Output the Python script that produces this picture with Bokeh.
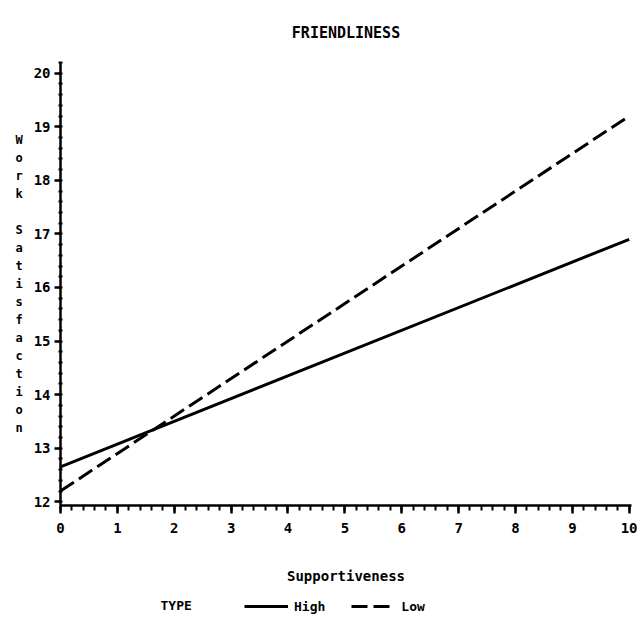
from bokeh.plotting import figure
from bokeh.layouts import column
from bokeh.models import Range1d, SingleIntervalTicker, Legend, LegendItem, Label
from bokeh.embed import file_html
from bokeh.resources import INLINE

# ---- data ----
support = [0, 10]
high = [12.65, 16.9]
low = [12.2, 19.2]
series_names = ["High", "Low"]
title_text = "FRIENDLINESS"
x_label = "Supportiveness"
y_label = "Work Satisfaction"
legend_title = "TYPE"

FONT = "DejaVu Sans Mono"
W = 637
LEG_H = 34
BORDER_L = 60
BORDER_R = 6

p = figure(width=W, height=625 - LEG_H, output_backend="svg", toolbar_location=None,
           x_range=Range1d(0, 10.04), y_range=Range1d(11.93, 20.2),
           min_border_left=BORDER_L, min_border_right=BORDER_R, min_border_top=62,
           min_border_bottom=86, title=title_text)

p.title.text_font = FONT
p.title.text_font_style = "bold"
p.title.text_font_size = "15px"
p.title.align = "center"
p.title.vertical_align = "top"
p.title.standoff = 38
p.title.text_color = "black"

line_style_high = dict(line_width=3, color="black")
line_style_low = dict(line_width=3, color="black", line_dash="16 6")

p.line(support, high, **line_style_high)
p.line(support, low, **line_style_low)

p.xgrid.grid_line_color = None
p.ygrid.grid_line_color = None
p.outline_line_color = None
p.background_fill_color = "white"
p.border_fill_color = "white"

for ax in (p.xaxis[0], p.yaxis[0]):
    ax.ticker = SingleIntervalTicker(interval=1, num_minor_ticks=5)
    ax.axis_line_width = 2.5
    ax.axis_line_color = "black"
    ax.major_tick_line_width = 2.5
    ax.minor_tick_line_width = 2
    ax.major_tick_line_color = "black"
    ax.minor_tick_line_color = "black"
    ax.major_label_text_font = FONT
    ax.major_label_text_font_style = "bold"
    ax.major_label_text_font_size = "14px"
    ax.major_label_text_color = "black"
    ax.axis_label_text_font = FONT
    ax.axis_label_text_font_style = "bold"
    ax.axis_label_text_color = "black"

p.xaxis.major_tick_out = 8
p.xaxis.major_tick_in = 0
p.xaxis.minor_tick_out = 5
p.xaxis.minor_tick_in = 0
p.xaxis.major_label_standoff = 9
p.xaxis.axis_label = x_label
p.xaxis.axis_label_text_font_size = "14px"
p.xaxis.axis_label_standoff = 32

p.yaxis.major_tick_out = 6
p.yaxis.major_tick_in = 0
p.yaxis.minor_tick_out = 2
p.yaxis.minor_tick_in = 2
p.yaxis.major_label_standoff = 4
p.yaxis.axis_label = "\n".join(y_label)
p.yaxis.axis_label_orientation = "horizontal"
p.yaxis.axis_label_text_font_size = "12px"
p.yaxis.axis_label_text_line_height = 1.29
p.yaxis.axis_label_standoff = 8

# ---- legend strip below the chart ----
FRAME_W = W - BORDER_L - BORDER_R
lf = figure(width=W, height=LEG_H, output_backend="svg", toolbar_location=None,
            x_range=Range1d(0, FRAME_W), y_range=Range1d(0, LEG_H),
            x_axis_location=None, y_axis_location=None,
            min_border_left=BORDER_L, min_border_right=BORDER_R,
            min_border_top=0, min_border_bottom=0)
lf.xgrid.grid_line_color = None
lf.ygrid.grid_line_color = None
lf.outline_line_color = None
lf.background_fill_color = "white"
lf.border_fill_color = "white"

# legend-key renderers (hidden; they only supply the key styling)
k_high = lf.line(support, high, visible=False, **line_style_high)
k_low = lf.line(support, low, visible=False, **line_style_low)

legend = Legend(items=[LegendItem(label=series_names[0], renderers=[k_high]),
                       LegendItem(label=series_names[1], renderers=[k_low])],
                orientation="horizontal", location=(184, 11),
                glyph_width=44, glyph_height=16,
                label_text_font=FONT, label_text_font_style="bold",
                label_text_font_size="13px", label_text_color="black",
                label_standoff=6, spacing=26,
                border_line_color=None, background_fill_alpha=0,
                inactive_fill_alpha=0,
                padding=3, margin=0)
lf.add_layout(legend, "center")

type_label = Label(x=100, y=20, text=legend_title, text_font=FONT,
                   text_font_style="bold", text_font_size="13px",
                   text_baseline="middle", text_color="black")
lf.add_layout(type_label)

page = column(p, lf, spacing=0)
open("out.html", "w").write(file_html(page, INLINE))
